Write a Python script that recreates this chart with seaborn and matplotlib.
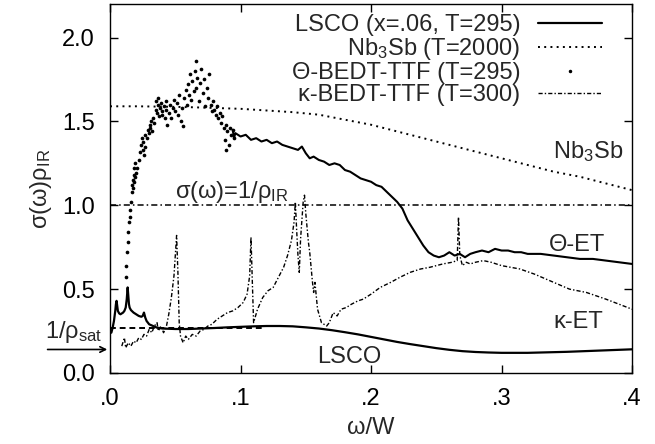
import numpy as np
import pandas as pd
import seaborn as sns
import matplotlib.pyplot as plt
from matplotlib.lines import Line2D

# ---- data ----
lsco_w = [0.001, 0.002, 0.003, 0.004, 0.0045, 0.005, 0.0055, 0.006, 0.007, 0.008,
          0.009, 0.010, 0.011, 0.012, 0.0128, 0.0135, 0.014, 0.0145, 0.015, 0.016,
          0.018, 0.020, 0.022, 0.024, 0.025, 0.026, 0.027, 0.028, 0.030, 0.033,
          0.036, 0.040, 0.050, 0.060, 0.070, 0.080, 0.090, 0.100, 0.110, 0.120,
          0.130, 0.140, 0.150, 0.160, 0.170, 0.180, 0.190, 0.200, 0.210, 0.220,
          0.230, 0.240, 0.250, 0.260, 0.270, 0.280, 0.290, 0.300, 0.310, 0.320,
          0.330, 0.340, 0.350, 0.360, 0.370, 0.380, 0.390, 0.400]
lsco_s = [0.24, 0.27, 0.31, 0.37, 0.41, 0.43, 0.40, 0.37, 0.355, 0.35,
          0.355, 0.36, 0.37, 0.39, 0.44, 0.51, 0.46, 0.41, 0.39, 0.375,
          0.36, 0.35, 0.34, 0.335, 0.34, 0.36, 0.33, 0.31, 0.29, 0.28,
          0.27, 0.265, 0.262, 0.262, 0.265, 0.268, 0.272, 0.275, 0.278, 0.28,
          0.28, 0.278, 0.272, 0.265, 0.255, 0.243, 0.23, 0.215, 0.20, 0.185,
          0.172, 0.16, 0.148, 0.138, 0.13, 0.125, 0.122, 0.12, 0.12, 0.12,
          0.122, 0.124, 0.126, 0.129, 0.132, 0.135, 0.138, 0.141]

nb_w = [0.0, 0.02, 0.04, 0.06, 0.08, 0.10, 0.12, 0.14, 0.16, 0.18, 0.20,
        0.22, 0.24, 0.26, 0.28, 0.30, 0.32, 0.34, 0.36, 0.38, 0.40]
nb_s = [1.59, 1.59, 1.588, 1.585, 1.58, 1.575, 1.565, 1.555, 1.54, 1.51, 1.48,
        1.44, 1.40, 1.36, 1.32, 1.28, 1.24, 1.20, 1.17, 1.13, 1.09]

theta_w = [0.0120, 0.0125, 0.0130, 0.0135, 0.0140, 0.0145, 0.0150, 0.0155, 0.0160, 0.0165,
           0.0170, 0.0173, 0.0176, 0.0180, 0.0183, 0.0186, 0.0190, 0.0195, 0.0200, 0.0210,
           0.0220, 0.0230, 0.0240, 0.0248, 0.0252, 0.0256, 0.0260, 0.0265, 0.0270, 0.0280,
           0.0290, 0.0300, 0.0305, 0.0310, 0.0315, 0.0320, 0.0330, 0.0340, 0.0350, 0.0355,
           0.0360, 0.0365, 0.0370, 0.0375, 0.0380, 0.0390, 0.0395, 0.0400, 0.0410, 0.0420,
           0.0425, 0.0430, 0.0440, 0.0450, 0.0460, 0.0470, 0.0480, 0.0490, 0.0500, 0.0510,
           0.0520, 0.0530, 0.0540, 0.0550, 0.0560, 0.0570, 0.0580, 0.0590, 0.0600, 0.0605,
           0.0610, 0.0620, 0.0630, 0.0640, 0.0650, 0.0655, 0.0660, 0.0670, 0.0680, 0.0690,
           0.0700, 0.0710, 0.0720, 0.0730, 0.0740, 0.0750, 0.0760, 0.0770, 0.0780, 0.0790,
           0.0800, 0.0810, 0.0820, 0.0830, 0.0840, 0.0850, 0.0860, 0.0870, 0.0880, 0.0885,
           0.0890, 0.0900, 0.0910, 0.0920, 0.0930, 0.0940, 0.0950,
           0.096, 0.100, 0.104, 0.108, 0.112, 0.116, 0.120, 0.124, 0.128, 0.132,
           0.136, 0.140, 0.144, 0.147, 0.150, 0.153, 0.156, 0.160, 0.164, 0.168,
           0.172, 0.176, 0.180, 0.184, 0.188, 0.192, 0.196, 0.200, 0.204, 0.208,
           0.212, 0.216, 0.220, 0.224, 0.228, 0.232, 0.236, 0.240, 0.244, 0.248,
           0.252, 0.256, 0.260, 0.264, 0.268, 0.272, 0.276, 0.280, 0.285, 0.290,
           0.295, 0.300, 0.305, 0.310, 0.315, 0.320, 0.330, 0.340, 0.350, 0.360,
           0.370, 0.380, 0.390, 0.400]
theta_s = [0.57, 0.64, 0.72, 0.78, 0.84, 0.90, 0.93, 0.97, 1.02, 1.08,
           1.12, 1.15, 1.10, 1.18, 1.14, 1.22, 1.17, 1.25, 1.19, 1.22,
           1.27, 1.32, 1.36, 1.40, 1.33, 1.38, 1.30, 1.35, 1.42, 1.40,
           1.45, 1.43, 1.48, 1.46, 1.50, 1.44, 1.52, 1.49, 1.57, 1.62,
           1.55, 1.60, 1.64, 1.53, 1.58, 1.61, 1.56, 1.54, 1.59, 1.52,
           1.62, 1.57, 1.48, 1.55, 1.60, 1.52, 1.58, 1.63, 1.56, 1.61,
           1.54, 1.66, 1.50, 1.58, 1.47, 1.64, 1.69, 1.60, 1.72, 1.66,
           1.78, 1.63, 1.74, 1.68, 1.80, 1.86, 1.70, 1.76, 1.62, 1.73,
           1.81, 1.67, 1.75, 1.59, 1.70, 1.64, 1.78, 1.60, 1.56, 1.62,
           1.57, 1.54, 1.59, 1.52, 1.55, 1.49, 1.53, 1.46, 1.39, 1.33,
           1.48, 1.44, 1.36, 1.46, 1.42, 1.45, 1.40,
           1.43, 1.41, 1.42, 1.39, 1.40, 1.38, 1.39, 1.37, 1.38, 1.36,
           1.35, 1.34, 1.33, 1.35, 1.31, 1.28, 1.29, 1.27, 1.26, 1.24,
           1.25, 1.24, 1.21, 1.20, 1.18, 1.16, 1.15, 1.14, 1.12, 1.11,
           1.08, 1.05, 1.02, 0.98, 0.91, 0.86, 0.81, 0.76, 0.72, 0.70,
           0.69, 0.70, 0.72, 0.70, 0.71, 0.69, 0.71, 0.72, 0.73, 0.72,
           0.74, 0.73, 0.73, 0.72, 0.72, 0.71, 0.71, 0.70, 0.69, 0.68,
           0.68, 0.67, 0.66, 0.65]

kappa_w = [0.009, 0.011, 0.012, 0.014, 0.016, 0.018, 0.020, 0.022, 0.024, 0.026,
           0.028, 0.030, 0.032, 0.034, 0.036, 0.037, 0.039, 0.041, 0.043, 0.045,
           0.047, 0.049, 0.050, 0.051, 0.052, 0.053, 0.054, 0.056, 0.058, 0.060,
           0.063, 0.066, 0.069, 0.072, 0.075, 0.078, 0.082, 0.086, 0.090, 0.094,
           0.098, 0.102, 0.105, 0.107, 0.108, 0.109, 0.110, 0.113, 0.117, 0.121,
           0.125, 0.129, 0.133, 0.136, 0.139, 0.141, 0.142, 0.143, 0.144, 0.145,
           0.146, 0.148, 0.149, 0.150, 0.152, 0.153, 0.155, 0.156, 0.157, 0.159,
           0.162, 0.166, 0.168, 0.171, 0.174, 0.177, 0.181, 0.185, 0.190, 0.194,
           0.200, 0.207, 0.215, 0.222, 0.230, 0.238, 0.245, 0.255, 0.262, 0.266,
           0.267, 0.268, 0.270, 0.273, 0.276, 0.280, 0.286, 0.292, 0.300, 0.307,
           0.314, 0.325, 0.340, 0.352, 0.365, 0.380, 0.390, 0.400]
kappa_s = [0.16, 0.21, 0.15, 0.18, 0.16, 0.19, 0.18, 0.21, 0.20, 0.23,
           0.22, 0.26, 0.24, 0.28, 0.30, 0.25, 0.28, 0.24, 0.27, 0.35,
           0.45, 0.58, 0.70, 0.82, 0.60, 0.30, 0.22, 0.18, 0.22, 0.20,
           0.23, 0.22, 0.25, 0.26, 0.28, 0.29, 0.32, 0.34, 0.36, 0.37,
           0.39, 0.42, 0.47, 0.58, 0.81, 0.55, 0.30, 0.38, 0.45, 0.49,
           0.51, 0.57, 0.63, 0.70, 0.79, 0.90, 1.02, 0.85, 0.70, 0.60,
           0.80, 1.02, 1.06, 0.95, 0.78, 0.72, 0.55, 0.48, 0.54, 0.38,
           0.30, 0.28, 0.30, 0.36, 0.34, 0.38, 0.39, 0.41, 0.43, 0.44,
           0.47, 0.51, 0.54, 0.57, 0.60, 0.62, 0.63, 0.65, 0.66, 0.67,
           0.93, 0.70, 0.64, 0.66, 0.65, 0.66, 0.67, 0.66, 0.64, 0.63,
           0.62, 0.59, 0.54, 0.50, 0.48, 0.44, 0.41, 0.38]

sigma_ir = 1.0          # sigma(w) = 1/rho_IR reference line
rho_sat_inv = 0.27      # 1/rho_sat level
rho_sat_end = 0.117     # dashed segment stops here
arrow_level = 0.14

x_ticks = [0.0, 0.1, 0.2, 0.3, 0.4]
x_labels = ['.0', '.1', '.2', '.3', '.4']
y_ticks = [0.0, 0.5, 1.0, 1.5, 2.0]
y_labels = ['0.0', '0.5', '1.0', '1.5', '2.0']

legend_labels = ['LSCO (x=.06, T=295)', 'Nb$_3$Sb (T=2000)',
                 'Θ-BEDT-TTF (T=295)', 'κ-BEDT-TTF (T=300)']

# ---- style ----
sns.set_style('ticks')
plt.rcParams['font.family'] = ['Liberation Sans', 'DejaVu Sans']
plt.rcParams['mathtext.default'] = 'regular'
FS = 17

fig = plt.figure(figsize=(6.55, 4.44), dpi=100)
ax = fig.add_axes([0.168, 0.16, 0.797, 0.831])

lsco = pd.DataFrame({'w': lsco_w, 's': lsco_s})
nb = pd.DataFrame({'w': nb_w, 's': nb_s})
theta = pd.DataFrame({'w': theta_w, 's': theta_s})
kappa = pd.DataFrame({'w': kappa_w, 's': kappa_s})

# scattered low-frequency part as dots, dense high-frequency part as a noisy line
theta_lo = theta[theta['w'] < 0.096]
theta_hi = theta[theta['w'] >= 0.094]

sns.lineplot(data=lsco, x='w', y='s', ax=ax, color='black', lw=1.6,
             estimator=None, sort=False)
sns.lineplot(data=nb, x='w', y='s', ax=ax, color='black', lw=1.4,
             linestyle=(0, (1, 2.2)), estimator=None, sort=False)
sns.lineplot(data=theta_hi, x='w', y='s', ax=ax, color='black',
             lw=1.5, estimator=None, sort=False)
sns.scatterplot(data=theta_lo, x='w', y='s', ax=ax, color='black', s=7,
                linewidth=0)
sns.lineplot(data=kappa, x='w', y='s', ax=ax, color='black', lw=1.0,
             linestyle=(0, (3, 1.5, 1, 1.5)), estimator=None, sort=False)

ax.axhline(sigma_ir, color='black', lw=1.1, linestyle=(0, (4, 2, 1, 2)))
ax.plot([0, rho_sat_end], [rho_sat_inv, rho_sat_inv], color='black', lw=1.4,
        linestyle=(0, (3, 2)))

ax.set_xlim(0, 0.4)
ax.set_ylim(0, 2.2)
ax.set_xticks(x_ticks, x_labels)
ax.set_yticks(y_ticks, y_labels)
ax.tick_params(direction='in', top=True, right=True, length=6, width=1,
               labelsize=FS, colors='black', pad=11)
for sp in ax.spines.values():
    sp.set_color('black')
    sp.set_linewidth(1.0)

ax.set_xlabel('ω/W', fontsize=FS, labelpad=5)
ax.set_ylabel('σ(ω)ρ$_{IR}$', fontsize=FS, labelpad=6)

# labels in the plot
ax.text(0.05, 1.08, 'σ(ω)=1/ρ$_{IR}$', fontsize=FS, va='center', ha='left')
ax.text(0.393, 1.32, 'Nb$_3$Sb', fontsize=FS, va='center', ha='right')
ax.text(0.379, 0.765, 'Θ-ET', fontsize=FS, va='center', ha='right')
ax.text(0.378, 0.305, 'κ-ET', fontsize=FS, va='center', ha='right')
ax.text(0.183, 0.095, 'LSCO', fontsize=FS, va='center', ha='center')
ax.text(-0.05, 0.245, '1/ρ$_{sat}$', fontsize=FS, va='center', ha='left')
ax.annotate('', xy=(0, arrow_level), xytext=(-0.05, arrow_level),
            arrowprops=dict(arrowstyle='->', color='black', lw=1.2),
            annotation_clip=False)

handles = [Line2D([], [], color='black', lw=1.6),
           Line2D([], [], color='black', lw=1.4, linestyle=(0, (1, 2.2))),
           Line2D([], [], color='black', lw=0, marker='.', markersize=3),
           Line2D([], [], color='black', lw=1.0, linestyle=(0, (3, 1.5, 1, 1.5)))]
ax.legend(handles, legend_labels, loc='upper right', bbox_to_anchor=(0.9425, 0.973),
          markerfirst=False, frameon=False, fontsize=FS, labelspacing=0.0,
          handlelength=2.7, handletextpad=0.76, borderaxespad=0, borderpad=0)

fig.savefig('out.png', dpi=100)
